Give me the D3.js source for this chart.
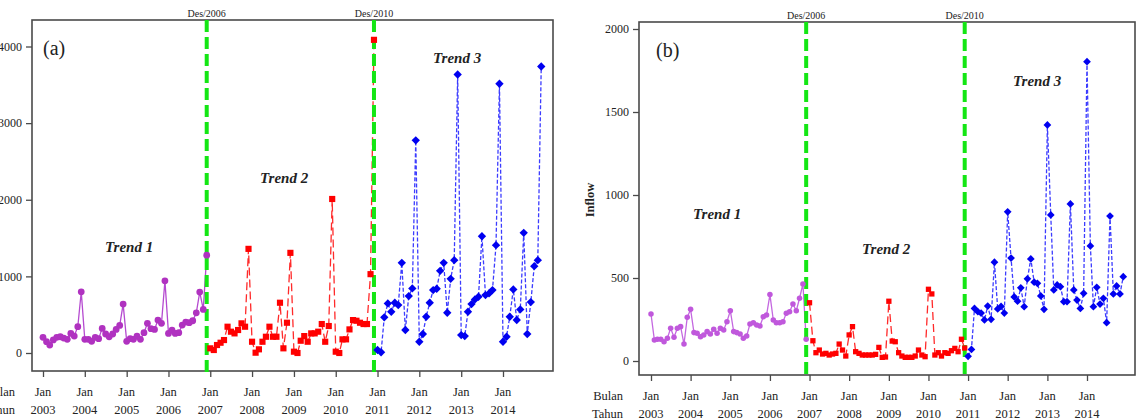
<!DOCTYPE html>
<html>
<head>
<meta charset="utf-8">
<script src="https://cdn.jsdelivr.net/npm/d3@7"></script>
<style>
  body { margin: 0; background: #fff; }
  svg { display: block; font-family: "Liberation Serif", "Times New Roman", serif; }
</style>
</head>
<body>
<svg id="chart" width="1145" height="420"></svg>
<script>
// monthly values Jan 2003 .. Dec 2014, split into 3 trend periods of 48 months
var startMonth = new Date(2003, 0, 1);
var yearLabels = ["2003", "2004", "2005", "2006", "2007", "2008", "2009", "2010", "2011", "2012", "2013", "2014"];
var breakLabels = ["Des/2006", "Des/2010"];
var breakMonths = [47, 95]; // index from Jan 2003
var trendNames = ["Trend 1", "Trend 2", "Trend 3"];

// panel (a)
var outflowTrend1 = [204, 147, 104, 170, 204, 212, 195, 178, 256, 221, 343, 799,
                     178, 178, 152, 204, 187, 321, 248, 212, 248, 308, 360, 638,
                     152, 187, 178, 221, 178, 265, 387, 317, 308, 430, 387, 942,
                     256, 300, 256, 265, 365, 404, 395, 421, 525, 795, 569, 1277];
var outflowTrend2 = [61, 39, 104, 134, 169, 343, 278, 256, 300, 387, 343, 1359,
                     147, 4, 48, 147, 212, 343, 212, 212, 656, 61, 395, 1307,
                     17, 0, 160, 221, 147, 256, 256, 278, 378, 147, 352, 2010,
                     17, 0, 178, 178, 308, 430, 421, 395, 378, 378, 1029, 4087];
var outflowTrend3 = [39, 10, 465, 647, 538, 656, 625, 1177, 300, 743, 843, 2775,
                     147, 248, 473, 656, 821, 838, 1072, 1177, 525, 968, 1212, 3635,
                     234, 221, 538, 638, 699, 734, 1524, 756, 778, 821, 1407, 3514,
                     147, 212, 473, 830, 430, 569, 1568, 248, 664, 1133, 1212, 3739];

// panel (b)
var inflowTrend1 = [283, 127, 131, 131, 116, 137, 197, 143, 197, 207, 102, 263,
                    311, 171, 167, 146, 157, 177, 163, 191, 167, 197, 187, 237,
                    303, 177, 171, 163, 137, 151, 223, 231, 217, 211, 267, 277,
                    400, 247, 231, 231, 237, 287, 297, 343, 303, 378, 464, 131];
var inflowTrend2 = [351, 122, 50, 66, 42, 46, 36, 42, 46, 102, 66, 30,
                    157, 207, 56, 46, 36, 36, 36, 36, 40, 82, 22, 24,
                    360, 120, 116, 50, 30, 22, 22, 22, 30, 66, 36, 26,
                    432, 404, 36, 50, 30, 50, 46, 62, 76, 56, 131, 78];
var inflowTrend3 = [28, 70, 317, 297, 289, 247, 331, 251, 595, 314, 329, 289,
                    899, 620, 386, 360, 441, 327, 495, 615, 475, 468, 392, 311,
                    1422, 880, 428, 458, 448, 357, 357, 946, 428, 367, 317, 408,
                    1803, 693, 327, 444, 343, 378, 231, 873, 404, 452, 404, 508];

var ticksA = [0, 1000, 2000, 3000, 4000];
var ticksB = [0, 500, 1000, 1500, 2000];

var svg = d3.select("#chart");

function monthDate(i) { return d3.timeMonth.offset(startMonth, i); }

var diamond = {
  draw: function(ctx, size) {
    var r = Math.sqrt(size) / 2;
    ctx.moveTo(0, -r); ctx.lineTo(r, 0); ctx.lineTo(0, r); ctx.lineTo(-r, 0); ctx.closePath();
  }
};

function drawPanel(cfg) {
  var g = svg.append("g");
  var x = d3.scaleTime().domain([monthDate(0), monthDate(132)]).range(cfg.xr);
  var y = d3.scaleLinear().domain([0, cfg.yticks[cfg.yticks.length - 1]]).range(cfg.yr);
  var b = cfg.box;

  g.append("rect")
    .attr("x", b[0]).attr("y", b[1])
    .attr("width", b[2] - b[0]).attr("height", b[3] - b[1])
    .attr("fill", "none").attr("stroke", "#4a4a4a").attr("stroke-width", 1.6);

  // series lines
  cfg.series.forEach(function(s) {
    var line = d3.line()
      .x(function(d, i) { return x(monthDate(s.offset + i)); })
      .y(function(d) { return y(d); });
    g.append("path")
      .datum(s.values)
      .attr("d", line)
      .attr("fill", "none")
      .attr("stroke", s.lineColor)
      .attr("stroke-width", 1.3)
      .attr("stroke-dasharray", s.dash);
  });

  // break lines
  breakMonths.forEach(function(m, k) {
    var bx = x(monthDate(m));
    g.append("line")
      .attr("x1", bx).attr("x2", bx)
      .attr("y1", b[1]).attr("y2", b[3] + 3)
      .attr("stroke", "#14e614").attr("stroke-width", 4)
      .attr("stroke-dasharray", "12,5");
    g.append("text")
      .attr("x", bx).attr("y", b[1] - 3)
      .attr("text-anchor", "middle")
      .attr("font-size", 10)
      .attr("fill", "#222")
      .text(breakLabels[k]);
  });

  // markers
  cfg.series.forEach(function(s) {
    g.append("g").selectAll("path")
      .data(s.values)
      .join("path")
      .attr("transform", function(d, i) { return "translate(" + x(monthDate(s.offset + i)) + "," + y(d) + ")"; })
      .attr("d", d3.symbol().type(s.symbol).size(s.size))
      .attr("fill", s.color);
  });

  // y axis
  g.append("g")
    .attr("transform", "translate(" + b[0] + ",0)")
    .call(d3.axisLeft(y).tickValues(cfg.yticks).tickSize(6).tickPadding(4).tickFormat(d3.format("d")))
    .attr("font-family", "Liberation Serif, serif")
    .attr("font-size", 12)
    .call(function(a) {
      a.select(".domain").remove();
      a.selectAll("line").attr("stroke", "#4a4a4a").attr("stroke-width", 1.3);
      a.selectAll("text").attr("fill", "#222");
    });

  // x axis, Jan of every year
  var janTicks = yearLabels.map(function(d, i) { return monthDate(i * 12); });
  g.append("g")
    .attr("transform", "translate(0," + b[3] + ")")
    .call(d3.axisBottom(x).tickValues(janTicks).tickSize(6).tickFormat(function() { return ""; }))
    .call(function(a) {
      a.select(".domain").remove();
      a.selectAll("line").attr("stroke", "#4a4a4a").attr("stroke-width", 1.3);
    });

  var lab = g.append("g").attr("font-size", 12.5).attr("fill", "#222");
  lab.selectAll(".mon").data(janTicks).join("text")
    .attr("x", function(d) { return x(d); }).attr("y", b[3] + 25)
    .attr("text-anchor", "middle").text("Jan");
  lab.selectAll(".yr").data(janTicks).join("text")
    .attr("x", function(d) { return x(d); }).attr("y", b[3] + 43)
    .attr("text-anchor", "middle").text(function(d, i) { return yearLabels[i]; });
  lab.append("text").attr("x", cfg.rowLabelX).attr("y", b[3] + 25)
    .attr("text-anchor", "end").text("Bulan");
  lab.append("text").attr("x", cfg.rowLabelX).attr("y", b[3] + 43)
    .attr("text-anchor", "end").text("Tahun");

  g.append("text")
    .attr("x", cfg.tag[0]).attr("y", cfg.tag[1])
    .attr("font-size", 20).attr("fill", "#222")
    .text(cfg.tagText);

  trendNames.forEach(function(t, k) {
    g.append("text")
      .attr("x", cfg.trendPos[k][0]).attr("y", cfg.trendPos[k][1])
      .attr("font-size", 15).attr("font-weight", "bold").attr("font-style", "italic")
      .attr("fill", "#222")
      .text(t);
  });

  if (cfg.ylabel) {
    g.append("text")
      .attr("transform", "translate(" + cfg.ylabel[0] + "," + cfg.ylabel[1] + ") rotate(-90)")
      .attr("text-anchor", "middle")
      .attr("font-size", 12.5).attr("font-weight", "bold").attr("fill", "#222")
      .text(cfg.ylabel[2]);
  }
}

drawPanel({
  xr: [43, 503], yr: [353, 46.5], yticks: ticksA,
  box: [32, 20, 553, 371],
  rowLabelX: 15,
  tag: [43, 55], tagText: "(a)",
  trendPos: [[105, 252], [260, 183], [433, 63]],
  series: [
    { offset: 0, values: outflowTrend1, color: "#b032c0", lineColor: "#b54ad0", dash: null, symbol: d3.symbolCircle, size: 36 },
    { offset: 48, values: outflowTrend2, color: "#ff0000", lineColor: "#ff2a2a", dash: "8,4", symbol: d3.symbolSquare, size: 38 },
    { offset: 96, values: outflowTrend3, color: "#0000f0", lineColor: "#3c3cff", dash: "4,2", symbol: diamond, size: 70 }
  ]
});

drawPanel({
  xr: [651, 1087], yr: [361, 29], yticks: ticksB,
  box: [639, 22, 1135, 375],
  rowLabelX: 623,
  tag: [656, 57], tagText: "(b)",
  trendPos: [[693, 219], [862, 254], [1013, 86]],
  ylabel: [594, 200, "Inflow"],
  series: [
    { offset: 0, values: inflowTrend1, color: "#c058dc", lineColor: "#c468e0", dash: null, symbol: d3.symbolCircle, size: 24 },
    { offset: 48, values: inflowTrend2, color: "#ff0000", lineColor: "#ff2a2a", dash: "8,4", symbol: d3.symbolSquare, size: 28 },
    { offset: 96, values: inflowTrend3, color: "#0000f0", lineColor: "#3c3cff", dash: "4,2", symbol: diamond, size: 60 }
  ]
});
</script>
</body>
</html>
